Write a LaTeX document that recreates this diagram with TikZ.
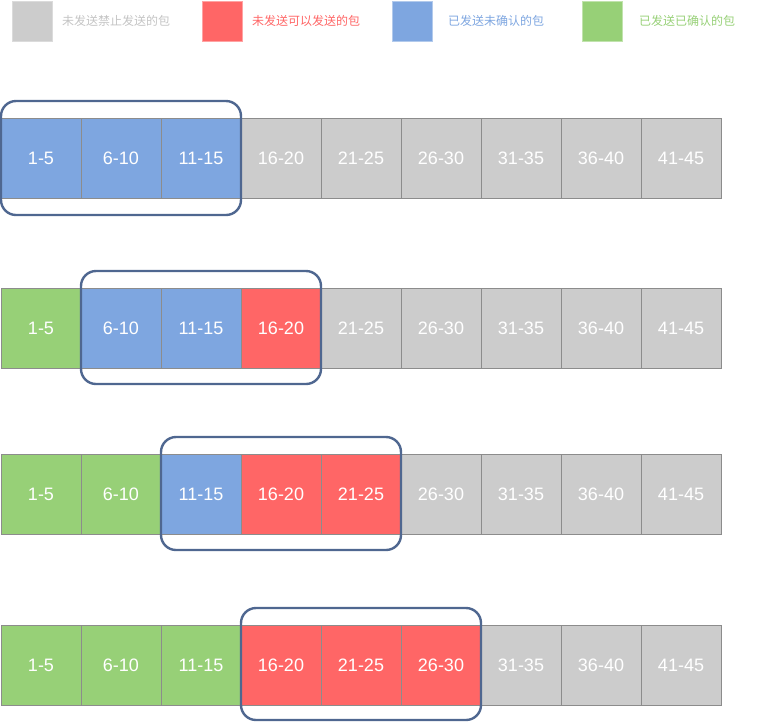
\documentclass[tikz,border=0pt]{standalone}
\usepackage{fontspec}
\setmainfont{Liberation Sans}
\newfontfamily\cjk{Noto Sans CJK SC}
\definecolor{cgray}{HTML}{CCCCCC}
\definecolor{cred}{HTML}{FF6666}
\definecolor{cblue}{HTML}{7EA6E0}
\definecolor{cgreen}{HTML}{97D077}
\definecolor{cline}{HTML}{8C8C8C}
\definecolor{cwin}{HTML}{4F6790}
\definecolor{tgray}{HTML}{C4C4C4}
\tikzset{
  cell/.style={draw=cline, line width=0.8pt, minimum width=80pt, minimum height=80pt, inner sep=0pt, outer sep=0pt,
    text=white, font=\fontsize{18}{20}\selectfont, anchor=north west},
  legsq/.style={minimum width=40pt, minimum height=40pt, inner sep=0pt, anchor=north west, line width=1pt},
  legtxt/.style={font=\cjk\fontsize{12}{14}\selectfont, anchor=west, inner sep=0pt},
  win/.style={draw=cwin, line width=2.4pt, rounded corners=15pt},
}
\begin{document}
\begin{tikzpicture}[x=1pt,y=-1pt]
\useasboundingbox (0,0) rectangle (762,724);
% legend
\node[legsq, fill=cgray, draw=cgray!70!white] (l1) at (12,0.5) {};
\node[legtxt, text=tgray] (t1) at (62,20.5) {未发送禁止发送的包};
\node[legsq, fill=cred, draw=cred!60!white] (l2) at (202,0.5) {};
\node[legtxt, text=cred] (t2) at (252,20.5) {未发送可以发送的包};
\node[legsq, fill=cblue, draw=cblue!60!white] (l3) at (392,0.5) {};
\node[legtxt, text=cblue] (t3) at (448,20.5) {已发送未确认的包};
\node[legsq, fill=cgreen, draw=cgreen!60!white] (l4) at (582,0.5) {};
\node[legtxt, text=cgreen] (t4) at (639,20.5) {已发送已确认的包};
% rows
\def\labels{{"1-5","6-10","11-15","16-20","21-25","26-30","31-35","36-40","41-45"}}
% row 1
\foreach \i/\lab/\col in {0/1-5/cblue,1/6-10/cblue,2/11-15/cblue,3/16-20/cgray,4/21-25/cgray,5/26-30/cgray,6/31-35/cgray,7/36-40/cgray,8/41-45/cgray}
  \node[cell, fill=\col] (a\i) at (1+80*\i,118) {\lab};
\foreach \i/\lab/\col in {0/1-5/cgreen,1/6-10/cblue,2/11-15/cblue,3/16-20/cred,4/21-25/cgray,5/26-30/cgray,6/31-35/cgray,7/36-40/cgray,8/41-45/cgray}
  \node[cell, fill=\col] (b\i) at (1+80*\i,288) {\lab};
\foreach \i/\lab/\col in {0/1-5/cgreen,1/6-10/cgreen,2/11-15/cblue,3/16-20/cred,4/21-25/cred,5/26-30/cgray,6/31-35/cgray,7/36-40/cgray,8/41-45/cgray}
  \node[cell, fill=\col] (c\i) at (1+80*\i,454) {\lab};
\foreach \i/\lab/\col in {0/1-5/cgreen,1/6-10/cgreen,2/11-15/cgreen,3/16-20/cred,4/21-25/cred,5/26-30/cred,6/31-35/cgray,7/36-40/cgray,8/41-45/cgray}
  \node[cell, fill=\col] (d\i) at (1+80*\i,625) {\lab};
% windows
\draw[win] ([yshift=17pt]a0.north west) rectangle ([yshift=-17pt]a2.south east);
\draw[win] ([yshift=17pt]b1.north west) rectangle ([yshift=-16pt]b3.south east);
\draw[win] ([yshift=17pt]c2.north west) rectangle ([yshift=-16pt]c4.south east);
\draw[win] ([yshift=17pt]d3.north west) rectangle ([yshift=-15pt]d5.south east);
\end{tikzpicture}
\end{document}
